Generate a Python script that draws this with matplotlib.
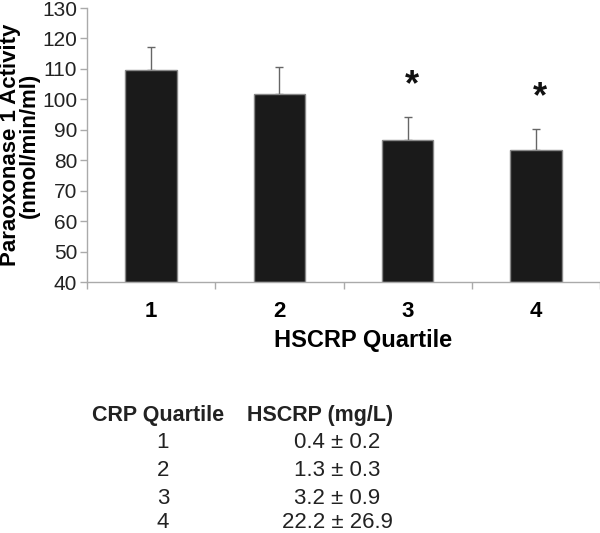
import matplotlib.pyplot as plt
import numpy as np

plt.rcParams["font.family"] = ["Liberation Sans", "DejaVu Sans"]

# ── Data ─────────────────────────────────────────────────────
quartiles = ["1", "2", "3", "4"]
pon_activity = [109.7, 101.6, 86.8, 83.2]
pon_err = [7.4, 9.0, 7.4, 7.1]
significant = [False, False, True, True]

table_quartile = ["1", "2", "3", "4"]
table_hscrp = ["0.4 ± 0.2", "1.3 ± 0.3", "3.2 ± 0.9", "22.2 ± 26.9"]

# ── Figure ───────────────────────────────────────────────────
fig = plt.figure(figsize=(6.0, 5.33), dpi=100)
top_px, bot_px = 8, 282
ax = fig.add_axes([87 / 600, 1 - bot_px / 533, 513 / 600, (bot_px - top_px) / 533])

x = np.arange(len(quartiles))
ax.bar(x, np.array(pon_activity) - 40, bottom=40, width=0.4,
       color="#1a1a1a", edgecolor="#888888", linewidth=1.0, zorder=2)
ax.errorbar(x, pon_activity, yerr=[np.zeros(len(x)), pon_err],
            fmt="none", ecolor="#666666", elinewidth=1.0,
            capsize=3, capthick=1.0, zorder=1)

for xi, v, e, s in zip(x, pon_activity, pon_err, significant):
    if s:
        ax.annotate("*", (xi, v + e), xytext=(3, 10),
                    textcoords="offset points", ha="center", va="bottom",
                    fontsize=26, fontweight="bold", color="#111111")

ax.set_xlim(-0.5, len(x) - 0.5)
ax.set_ylim(40, 130)
ax.set_yticks(np.arange(40, 131, 10))
ax.tick_params(axis="y", labelsize=15, length=5, width=1, color="#aaaaaa",
               pad=2, labelcolor="#222222")
ax.set_xticks(x)
ax.set_xticklabels(quartiles, fontsize=16, fontweight="bold")
ax.set_xticks(np.arange(-0.5, len(x), 1.0), minor=True)
ax.tick_params(axis="x", which="major", length=0, pad=14)
ax.tick_params(axis="x", which="minor", length=5, width=1, color="#aaaaaa")

for side in ["top", "right"]:
    ax.spines[side].set_visible(False)
for side in ["left", "bottom"]:
    ax.spines[side].set_color("#aaaaaa")
    ax.spines[side].set_linewidth(1.0)

ax.set_xlabel("HSCRP Quartile", fontsize=17, fontweight="bold")
ax.xaxis.set_label_coords((363 - 87) / 513, -(340 - bot_px) / (bot_px - top_px))
ax.xaxis.label.set_va("center")
ax.set_ylabel("Paraoxonase 1 Activity\n(nmol/min/ml)", fontsize=16,
              fontweight="bold", linespacing=0.88)
ax.yaxis.set_label_coords(-(87 - 40) / 513, 0.5)

# ── Table below ──────────────────────────────────────────────
head_y = 1 - 416 / 533
fig.text(92 / 600, head_y, "CRP Quartile", ha="left", va="center",
         fontsize=15.5, fontweight="bold", color="#222222")
fig.text(247 / 600, head_y, "HSCRP (mg/L)", ha="left", va="center",
         fontsize=15.5, fontweight="bold", color="#222222")
col1_x = 163 / 600
col2_x = 337 / 600
row_y = [442, 470, 498, 523]
for q, h, yy in zip(table_quartile, table_hscrp, row_y):
    fig.text(col1_x, 1 - yy / 533, q, ha="center", va="center",
             fontsize=16, color="#222222")
    fig.text(col2_x, 1 - yy / 533, h, ha="center", va="center",
             fontsize=16, color="#222222")

plt.savefig("out.png", dpi=100, facecolor="white")
plt.close()
